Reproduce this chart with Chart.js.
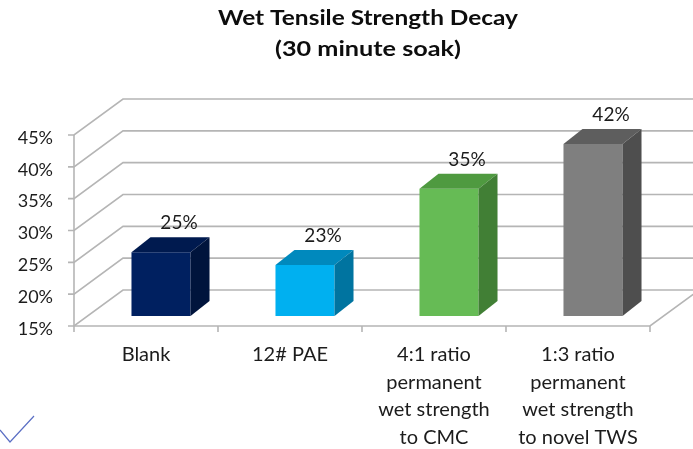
<!DOCTYPE html>
<html>
<head>
<meta charset="utf-8">
<script src="https://cdn.jsdelivr.net/npm/chart.js@4.4.1/dist/chart.umd.min.js"></script>
<style>
  html, body { margin: 0; padding: 0; background: #ffffff; }
  #wrap { position: relative; width: 693px; height: 449px; }
</style>
</head>
<body>
<div id="wrap"><canvas id="chart"></canvas></div>
<script>
// Wet tensile strength decay after a 30 minute soak, per treatment
const categories = [
  ['Blank'],
  ['12# PAE'],
  ['4:1 ratio', 'permanent', 'wet strength', 'to CMC'],
  ['1:3 ratio', 'permanent', 'wet strength', 'to novel TWS']
];
const decay = [25, 23, 35, 42];
const yMin = 15;
const yMax = 45;
const yStep = 5;
const titleLines = ['Wet Tensile Strength Decay', '(30 minute soak)'];

// face colours of each box: front, top, side
const frontColors = ['#002060', '#00b0f0', '#66bb55', '#7f7f7f'];
const topColors   = ['#001a4f', '#0089bd', '#4f9a40', '#5e5e5e'];
const sideColors  = ['#00143c', '#0074a0', '#417f35', '#4e4e4e'];

const FONT = 'Lato, "Open Sans", sans-serif';
const TEXT = '#1c1c1c';

// perspective offsets: wall depth, bar position inside the depth, bar depth
const WALL = { dx: 49, dy: -36 };
const SHIFT = { dx: 15, dy: -10 };
const DEPTH = { dx: 19, dy: -15 };

// draws text stretched horizontally to a given width
function wideText(ctx, text, cx, cy, width) {
  const w = ctx.measureText(text).width;
  ctx.save();
  ctx.translate(cx, cy);
  ctx.scale(width / w, 1);
  ctx.fillText(text, 0, 0);
  ctx.restore();
}

const box3d = {
  id: 'box3d',
  beforeDatasetsDraw(chart) {
    const { ctx, chartArea: a, scales: { x, y } } = chart;
    ctx.save();
    ctx.strokeStyle = '#b5b5b5';
    ctx.lineWidth = 1.6;
    ctx.lineCap = 'butt';
    // side wall diagonals and back wall gridlines
    for (let v = yMin; v <= yMax; v += yStep) {
      const py = y.getPixelForValue(v);
      ctx.beginPath();
      ctx.moveTo(a.left - 6, py);
      ctx.lineTo(a.left, py);
      ctx.lineTo(a.left + WALL.dx, py + WALL.dy);
      ctx.lineTo(a.right + WALL.dx + 10, py + WALL.dy);
      ctx.stroke();
    }
    // value axis line
    ctx.beginPath();
    ctx.moveTo(a.left, y.getPixelForValue(yMax));
    ctx.lineTo(a.left, a.bottom);
    ctx.stroke();
    // floor front edge and right edge
    ctx.beginPath();
    ctx.moveTo(a.left, a.bottom);
    ctx.lineTo(a.right, a.bottom);
    ctx.lineTo(a.right + WALL.dx, a.bottom + WALL.dy);
    ctx.stroke();
    // category boundary ticks
    const half = (x.getPixelForValue(1) - x.getPixelForValue(0)) / 2;
    for (let i = 0; i <= categories.length; i++) {
      const px = x.getPixelForValue(i) - half;
      ctx.beginPath();
      ctx.moveTo(px, a.bottom);
      ctx.lineTo(px, a.bottom + 6);
      ctx.stroke();
    }
    ctx.restore();
    // front faces are drawn by the bar controller, pushed into the depth
    ctx.save();
    ctx.translate(SHIFT.dx, SHIFT.dy);
  },
  afterDatasetsDraw(chart) {
    const { ctx } = chart;
    ctx.restore();
    const meta = chart.getDatasetMeta(0);
    meta.data.forEach((bar, i) => {
      const L = bar.x - bar.width / 2 + SHIFT.dx;
      const R = bar.x + bar.width / 2 + SHIFT.dx;
      const T = bar.y + SHIFT.dy;
      const B = bar.base + SHIFT.dy;
      ctx.save();
      // top face
      ctx.fillStyle = topColors[i];
      ctx.beginPath();
      ctx.moveTo(L, T);
      ctx.lineTo(R, T);
      ctx.lineTo(R + DEPTH.dx, T + DEPTH.dy);
      ctx.lineTo(L + DEPTH.dx, T + DEPTH.dy);
      ctx.closePath();
      ctx.fill();
      // side face
      ctx.fillStyle = sideColors[i];
      ctx.beginPath();
      ctx.moveTo(R, T);
      ctx.lineTo(R + DEPTH.dx, T + DEPTH.dy);
      ctx.lineTo(R + DEPTH.dx, B + DEPTH.dy);
      ctx.lineTo(R, B);
      ctx.closePath();
      ctx.fill();
      // value label above the box
      ctx.fillStyle = TEXT;
      ctx.font = '19px ' + FONT;
      ctx.textAlign = 'center';
      ctx.textBaseline = 'middle';
      ctx.fillText(decay[i] + '%', bar.x + 33, bar.y - 39);
      ctx.restore();
    });
  },
  afterDraw(chart) {
    const { ctx } = chart;
    ctx.save();
    // title
    ctx.fillStyle = '#0d0d0d';
    ctx.font = 'bold 20px ' + FONT;
    ctx.textAlign = 'center';
    ctx.textBaseline = 'middle';
    wideText(ctx, titleLines[0], 368, 19, 300);
    wideText(ctx, titleLines[1], 368, 50, 186);
    // small check mark in the corner
    ctx.strokeStyle = '#5b6fc4';
    ctx.lineWidth = 1.2;
    ctx.beginPath();
    ctx.moveTo(0, 430);
    ctx.lineTo(10, 442);
    ctx.lineTo(34, 416);
    ctx.stroke();
    ctx.restore();
  }
};

new Chart(document.getElementById('chart'), {
  type: 'bar',
  data: {
    labels: categories,
    datasets: [{
      data: decay,
      backgroundColor: frontColors,
      borderWidth: 0,
      barPercentage: 0.41,
      categoryPercentage: 1,
      base: yMin,
      clip: false
    }]
  },
  options: {
    responsive: true,
    maintainAspectRatio: false,
    animation: false,
    layout: { padding: { top: 135, right: 43, bottom: 0, left: 0 } },
    plugins: {
      legend: { display: false },
      tooltip: { enabled: false },
      title: { display: false }
    },
    scales: {
      x: {
        grid: { display: false, drawTicks: false },
        border: { display: false },
        ticks: {
          color: TEXT,
          font: { family: FONT, size: 20, lineHeight: 1.375 },
          padding: 15,
          maxRotation: 0,
          autoSkip: false
        },
        afterFit(scale) { scale.height = 123; }
      },
      y: {
        min: yMin,
        max: yMax,
        grid: { display: false, drawTicks: false },
        border: { display: false },
        ticks: {
          stepSize: yStep,
          color: TEXT,
          font: { family: FONT, size: 18 },
          padding: 21,
          labelOffset: 3,
          callback: v => v + '%'
        },
        afterFit(scale) { scale.width = 74; }
      }
    }
  },
  plugins: [box3d]
});
</script>
</body>
</html>
